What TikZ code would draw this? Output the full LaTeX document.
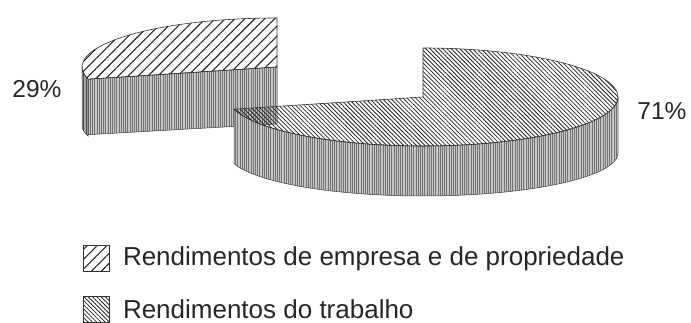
\documentclass[tikz,border=0pt]{standalone}
\usepackage{fontspec}
\setmainfont{Liberation Sans}
\usetikzlibrary{patterns.meta,positioning,calc}
\tikzset{
  lado/.style={draw=black!75, line width=0.5pt, preaction={fill=gray!45}, pattern={Lines[angle=90,distance=2.2pt,line width=0.6pt]}, pattern color=black!55},
  ladoescuro/.style={draw=black!75, line width=0.5pt, preaction={fill=gray!70}, pattern={Lines[angle=90,distance=2.2pt,line width=0.6pt]}, pattern color=black!70},
  empresa/.style={draw=black!80, line width=0.6pt, pattern={Lines[angle=45,distance=7pt,line width=1.1pt]}, pattern color=black!85},
  trabalho/.style={draw=black!80, line width=0.6pt, pattern={Lines[angle=-45,distance=3pt,line width=0.8pt]}, pattern color=black!85},
  rotulo/.style={font=\fontsize{24.5}{27}\selectfont, text=black!85, inner sep=0pt},
  legenda/.style={font=\fontsize{26}{29}\selectfont, text=black!85, inner sep=0pt},
  caixa/.style={minimum size=26pt, inner sep=0pt},
}
% #1-centro x #2-centro y #3-ang. inicial #4-ang. final #5-estilo
\newcommand{\tampa}[5]{%
    \coordinate (q1) at (#1,#2);
    \draw[#5] (q1) -- ++(#3:195pt and 49pt) arc[start angle=#3, end angle=#4, x radius=195pt, y radius=49pt] -- cycle;
}
% #1-centro x #2-centro y #3-ang. inicial #4-ang. final #5-altura #6-estilo
\newcommand{\lateral}[6]{%
    \coordinate (q1) at (#1,#2);
    \draw[#6] (q1) ++(#3:195pt and 49pt) arc[start angle=#3, end angle=#4, x radius=195pt, y radius=49pt]
        -- ++(0,-#5) arc[start angle=#4, end angle=#3, x radius=195pt, y radius=43pt] -- cycle;
}
% #1-centro x #2-centro y #3-angulo #4-altura #5-estilo
\newcommand{\corte}[5]{%
    \coordinate (q1) at (#1,#2);
    \coordinate (q2) at ($(q1)+(#3:195pt and 49pt)$);
    \coordinate (q3) at ($(q1)+(0,-#4)+(#3:195pt and 43pt)$);
    \coordinate (q4) at ($(q1)+(0,-#4)$);
    \draw[#5] (q1) -- (q2) -- (q3) -- (q4) -- cycle;
}

\begin{document}
\begin{tikzpicture}[x=1pt,y=1pt]
    \useasboundingbox (0,0) rectangle (691,323);
    % fatia destacada 29%
    \corte{277}{256}{194.4}{57}{lado}
    \lateral{277}{256}{180}{194.4}{57}{ladoescuro}
    \tampa{277}{256}{90}{194.4}{empresa}
    % fatia 71%
    \lateral{423}{226}{194.4}{360}{56}{lado}
    \tampa{423}{226}{194.4}{450}{trabalho}
    \node[rotulo] (p29) at (37,234) {29\%};
    \node[rotulo] (p71) at (662,212) {71\%};
    % legenda
    \node[caixa, empresa] (c1) at (96.5,64.5) {};
    \node[legenda, right=13pt of c1] (t1) {Rendimentos de empresa e de propriedade};
    \node[caixa, trabalho] (c2) at (96.5,13.5) {};
    \node[legenda, right=13pt of c2] (t2) {Rendimentos do trabalho};
\end{tikzpicture}
\end{document}
